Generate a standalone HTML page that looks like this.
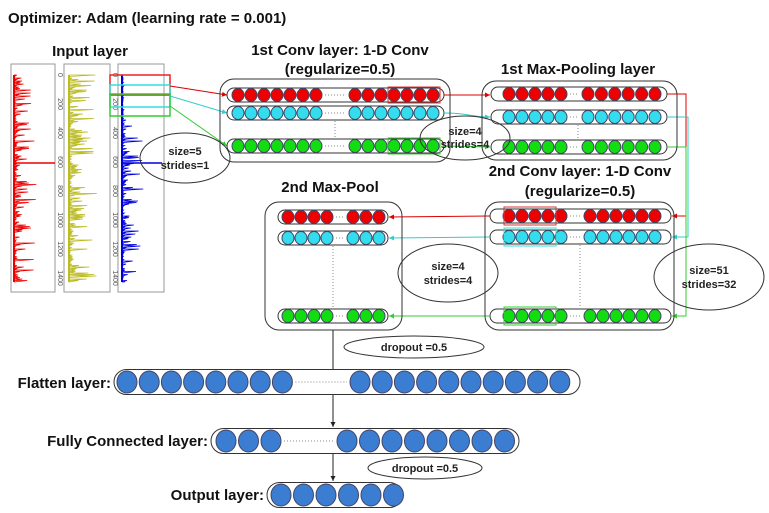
<!DOCTYPE html>
<html><head><meta charset="utf-8"><style>
html,body{margin:0;padding:0;background:#fff;}
svg{display:block;font-family:"Liberation Sans",Arial,sans-serif;}
</style></head><body>
<svg id="s" width="769" height="513" viewBox="0 0 769 513" xmlns="http://www.w3.org/2000/svg">
<defs>
<marker id="ar" markerWidth="6" markerHeight="6" refX="5" refY="3" orient="auto"><path d="M0,0.5 L5,3 L0,5.5z" fill="#d00"/></marker>
<marker id="ac" markerWidth="6" markerHeight="6" refX="5" refY="3" orient="auto"><path d="M0,0.5 L5,3 L0,5.5z" fill="#3cc"/></marker>
<marker id="ag" markerWidth="6" markerHeight="6" refX="5" refY="3" orient="auto"><path d="M0,0.5 L5,3 L0,5.5z" fill="#3c3"/></marker>
<marker id="ak" markerWidth="6" markerHeight="6" refX="5" refY="3" orient="auto"><path d="M0,0.5 L5,3 L0,5.5z" fill="#222"/></marker>
</defs>
<g font-weight="bold" fill="#111">
<text x="8" y="23" font-size="15">Optimizer: Adam (learning rate = 0.001)</text>
<text x="90" y="56" font-size="15" text-anchor="middle">Input layer</text>
<text x="340" y="55" font-size="15" text-anchor="middle">1st Conv layer: 1-D Conv</text>
<text x="340" y="74" font-size="15" text-anchor="middle">(regularize=0.5)</text>
<text x="578" y="74" font-size="15" text-anchor="middle">1st Max-Pooling layer</text>
<text x="580" y="176" font-size="15" text-anchor="middle">2nd Conv layer: 1-D Conv</text>
<text x="580" y="196" font-size="15" text-anchor="middle">(regularize=0.5)</text>
<text x="330" y="192" font-size="15" text-anchor="middle">2nd Max-Pool</text>
<text x="111" y="388" font-size="15" text-anchor="end">Flatten layer:</text>
<text x="208" y="446" font-size="15" text-anchor="end">Fully Connected layer:</text>
<text x="264" y="500" font-size="15" text-anchor="end">Output layer:</text>
</g>
<g id="plots"></g>
<g id="net"></g>
<g fill="none" stroke="#333" stroke-width="1">
<rect x="220" y="79" width="230" height="83" rx="14"/>
<rect x="482" y="81" width="195" height="79" rx="14"/>
<rect x="485" y="202" width="189" height="128" rx="14"/>
<rect x="265" y="202" width="137" height="128" rx="14"/>
<ellipse cx="185" cy="158" rx="45" ry="25"/>
<ellipse cx="465" cy="138" rx="45" ry="22"/>
<ellipse cx="448" cy="273" rx="50" ry="29"/>
<ellipse cx="709" cy="277" rx="55" ry="33"/>
<ellipse cx="414" cy="347" rx="70" ry="11"/>
<ellipse cx="425" cy="468" rx="57" ry="11"/>
</g>
<g font-weight="bold" font-size="11" fill="#222" text-anchor="middle">
<text x="185" y="155">size=5</text><text x="185" y="169">strides=1</text>
<text x="465" y="135">size=4</text><text x="465" y="148">strides=4</text>
<text x="448" y="270">size=4</text><text x="448" y="284">strides=4</text>
<text x="709" y="274">size=51</text><text x="709" y="288">strides=32</text>
<text x="414" y="351">dropout =0.5</text>
<text x="425" y="472">dropout =0.5</text>
</g>
</svg>
<script>
(function(){
var NS="http://www.w3.org/2000/svg";
var P=document.getElementById('plots'),N=document.getElementById('net');
function el(g,t,a,txt){var e=document.createElementNS(NS,t);for(var k in a)e.setAttribute(k,a[k]);if(txt!=null)e.textContent=txt;g.appendChild(e);return e;}
var seed=7;function rnd(){seed=(seed*16807)%2147483647;return seed/2147483647;}
var panels=[[11,55,'#e00',14,[[163,55]]],[64,110,'#bb2',69,[]],[118,164,'#00d',122,[[163,162]]]];
panels.forEach(function(p,i){
 el(P,'rect',{x:p[0],y:64,width:p[1]-p[0],height:228,fill:'#fff',stroke:'#999'});
 var d='M'+p[3]+',75';
 for(var y=75;y<=282;y+=1.5){var a=rnd();var w;
  if(i==2&&y<120) w=a<0.06?a*80:a*1.5;
  else w=Math.pow(a,4)*(i==1?28:20)+rnd()*3;
  if(i==1&&y>255&&y<270) w*=1.8;
  d+=' L'+p[3]+','+y+' L'+(p[3]+w).toFixed(1)+','+y;}
 el(P,'path',{d:d,stroke:p[2],'stroke-width':0.8,fill:'none'});
 el(P,'line',{x1:p[3],y1:75,x2:p[3],y2:282,stroke:p[2],'stroke-width':2});
 p[4].forEach(function(s){el(P,'line',{x1:p[3],y1:s[0],x2:s[1],y2:s[0],stroke:p[2],'stroke-width':1.5});});
});
[58,113].forEach(function(x){for(var k=0;k<8;k++){var y=75+k*29;
 el(P,'text',{x:x,y:y,'font-size':7,fill:'#555','text-anchor':'middle',transform:'rotate(90 '+x+' '+y+')'},String(k*200));}});
el(P,'rect',{x:110,y:75,width:60,height:20,fill:'none',stroke:'#e22','stroke-width':1.5});
el(P,'rect',{x:110,y:85,width:60,height:22,fill:'none',stroke:'#3dd','stroke-width':1.5});
el(P,'rect',{x:110,y:94,width:60,height:22,fill:'none',stroke:'#3c3','stroke-width':1.5});
el(N,'line',{x1:170,y1:86,x2:227,y2:95,stroke:'#d00','marker-end':'url(#ar)'});
el(N,'line',{x1:170,y1:96,x2:227,y2:113,stroke:'#3cc','marker-end':'url(#ac)'});
el(N,'line',{x1:170,y1:106,x2:227,y2:146,stroke:'#3c3','marker-end':'url(#ag)'});
function row(x1,x2,y,h,fill,groups,rx,ry){
 el(N,'rect',{x:x1,y:y-h/2,width:x2-x1,height:h,rx:h/2,fill:'#fff',stroke:'#333'});
 var lastL=0,firstR=0;
 groups.forEach(function(g,gi){for(var k=0;k<g[1];k++){var cx=g[0]+k*g[2];
  el(N,'ellipse',{cx:cx,cy:y,rx:rx,ry:ry,fill:fill,stroke:'#446'});
  if(gi==0)lastL=cx;else if(k==0)firstR=cx;}});
 if(groups.length>1)el(N,'line',{x1:lastL+rx+3,y1:y,x2:firstR-rx-3,y2:y,stroke:'#888','stroke-dasharray':'1,2'});
}
var C={r:'#e00',c:'#3de',g:'#1d1'};
row(227,444,95,14,C.r,[[238,7,13],[355,7,13]],6,6.5);
row(227,444,113,14,C.c,[[238,7,13],[355,7,13]],6,6.5);
row(227,444,146,14,C.g,[[238,7,13],[355,7,13]],6,6.5);
el(N,'line',{x1:335,y1:121,x2:335,y2:139,stroke:'#888','stroke-dasharray':'1,2'});
el(N,'rect',{x:388,y:87,width:52,height:16,fill:'none',stroke:'#d33'});
el(N,'rect',{x:388,y:138,width:52,height:16,fill:'none',stroke:'#3c3'});
row(491,667,94,14,C.r,[[509,5,13],[588,6,13.4]],6,6.5);
row(491,667,117,14,C.c,[[509,5,13],[588,6,13.4]],6,6.5);
row(491,667,147,14,C.g,[[509,5,13],[588,6,13.4]],6,6.5);
el(N,'line',{x1:578,y1:125,x2:578,y2:139,stroke:'#888','stroke-dasharray':'1,2'});
el(N,'line',{x1:444,y1:95,x2:490,y2:95,stroke:'#d00','marker-end':'url(#ar)'});
el(N,'path',{d:'M444,113 C470,113 470,117 490,117',stroke:'#3cc',fill:'none','marker-end':'url(#ac)'});
el(N,'line',{x1:444,y1:146,x2:490,y2:147,stroke:'#3c3','marker-end':'url(#ag)'});
row(490,671,216,14,C.r,[[509,5,13],[590,6,13]],6,6.5);
row(490,671,237,14,C.c,[[509,5,13],[590,6,13]],6,6.5);
row(490,671,316,14,C.g,[[509,5,13],[590,6,13]],6,6.5);
el(N,'line',{x1:580,y1:245,x2:580,y2:308,stroke:'#888','stroke-dasharray':'1,2'});
el(N,'rect',{x:504,y:207,width:52,height:18,fill:'none',stroke:'#d33'});
el(N,'rect',{x:504,y:228,width:52,height:18,fill:'none',stroke:'#3dd'});
el(N,'rect',{x:504,y:307,width:52,height:18,fill:'none',stroke:'#3c3'});
el(N,'path',{d:'M667,94 L686,94 L686,216 L672,216',stroke:'#d00',fill:'none','marker-end':'url(#ar)'});
el(N,'path',{d:'M667,117 L688,117 L688,237 L672,237',stroke:'#3cc',fill:'none','marker-end':'url(#ac)'});
el(N,'path',{d:'M667,147 L686,147 L686,316 L672,316',stroke:'#3c3',fill:'none','marker-end':'url(#ag)'});
row(278,388,217,14,C.r,[[288,4,13],[353,3,13]],6,6.5);
row(278,388,238,14,C.c,[[288,4,13],[353,3,13]],6,6.5);
row(278,388,316,14,C.g,[[288,4,13],[353,3,13]],6,6.5);
el(N,'line',{x1:333,y1:246,x2:333,y2:308,stroke:'#888','stroke-dasharray':'1,2'});
el(N,'line',{x1:490,y1:216,x2:389,y2:217,stroke:'#d00','marker-end':'url(#ar)'});
el(N,'line',{x1:490,y1:237,x2:389,y2:238,stroke:'#3cc','marker-end':'url(#ac)'});
el(N,'line',{x1:490,y1:316,x2:389,y2:316,stroke:'#3c3','marker-end':'url(#ag)'});
var B='#3b7dd0';
el(N,'line',{x1:333,y1:330,x2:333,y2:382,stroke:'#222','marker-end':'url(#ak)'});
row(114,580,382,25,B,[[127,8,22.2],[360,10,22.2]],10,11);
el(N,'line',{x1:333,y1:395,x2:333,y2:427,stroke:'#222','marker-end':'url(#ak)'});
row(211,519,441,25,B,[[226,3,22.5],[347,8,22.5]],10,11);
el(N,'line',{x1:333,y1:454,x2:333,y2:481,stroke:'#222','marker-end':'url(#ak)'});
row(267,402,495,25,B,[[281,6,22.5]],10,11);
})();
</script>
</body></html>
